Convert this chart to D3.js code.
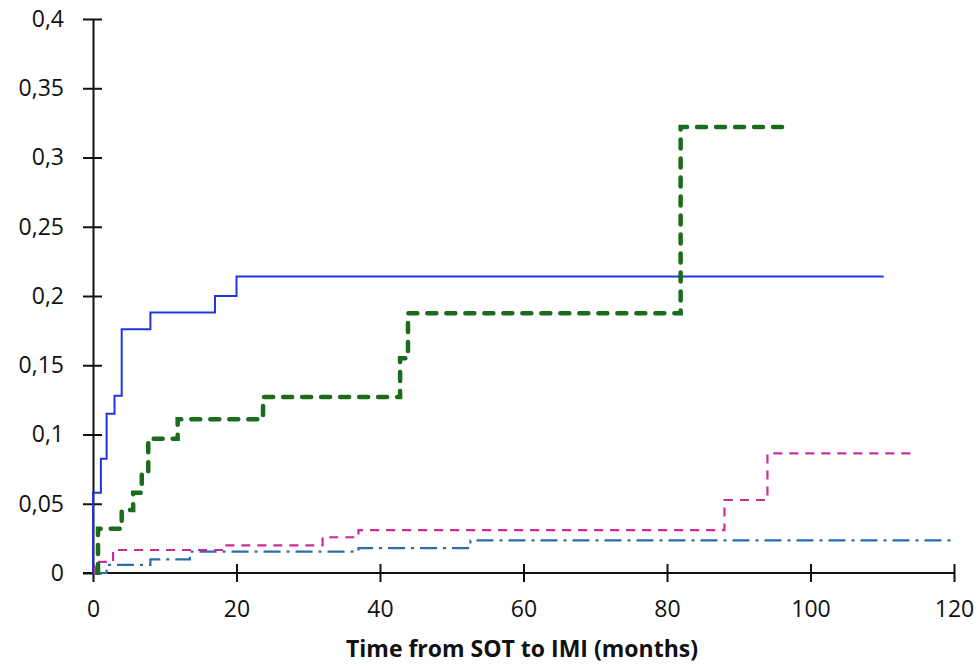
<!DOCTYPE html>
<html lang="en">
<head>
	<meta charset="utf-8">
	<title>Cumulative incidence of IMI after SOT</title>
	<script src="https://cdn.jsdelivr.net/npm/d3@7"></script>
	<style>
		body { margin: 0; background: #fff; }
		svg { display: block; font-family: "Open Sans", sans-serif; }
	</style>
</head>
<body>
	<script>
		// step curves: time (months) and cumulative value
		var blueTime = [0, 0, 1.1, 1.9, 3, 4, 8, 17, 20, 110.2];
		var blueValue = [0, 0.058, 0.0825, 0.115, 0.128, 0.176, 0.188, 0.2, 0.214, 0.214];

		var greenTime = [0.7, 0.7, 4, 5.6, 6.8, 7.7, 11.8, 23.7, 42.8, 43.9, 81.9, 96.3];
		var greenValue = [0, 0.032, 0.0455, 0.058, 0.072, 0.097, 0.111, 0.127, 0.155, 0.1875, 0.322, 0.322];

		var pinkTime = [0, 0.3, 2.8, 18, 32, 37, 88, 94, 114];
		var pinkValue = [0, 0.008, 0.0166, 0.02, 0.0258, 0.031, 0.0527, 0.0864, 0.0864];

		var tealTime = [0, 1.9, 8, 13.5, 37, 52.6, 119.8];
		var tealValue = [0, 0.0058, 0.0099, 0.0155, 0.018, 0.0235, 0.0235];

		var xTicks = [0, 20, 40, 60, 80, 100, 120];
		var yTicks = [0, 0.05, 0.1, 0.15, 0.2, 0.25, 0.3, 0.35, 0.4];
		var yTickLabels = ["0", "0,05", "0,1", "0,15", "0,2", "0,25", "0,3", "0,35", "0,4"];
		var xTitle = "Time from SOT to IMI (months)";

		var w = 980;
		var h = 667;

		var svg = d3.select("body")
			.append("svg")
			.attr("width", w)
			.attr("height", h);

		const xScale = d3.scaleLinear().domain([0, 120]).range([93, 954]);
		const yScale = d3.scaleLinear().domain([0, 0.4]).range([573, 19]);

		// x axis
		const xAxis = svg.append("g")
			.attr("transform", `translate(0,${yScale(0)})`)
			.call(d3.axisBottom(xScale).tickValues(xTicks).tickSize(9).tickPadding(19).tickSizeOuter(0));
		xAxis.select(".domain").attr("d", `M${xScale(0) - 10},0H${xScale(120)}`);
		xAxis.selectAll(".tick line").attr("y1", -9).attr("y2", 9);
		xAxis.selectAll(".tick text").attr("font-size", "23px").attr("font-family", "Open Sans").attr("fill", "#111");

		// y axis
		const yAxis = svg.append("g")
			.attr("transform", `translate(${xScale(0)},0)`)
			.call(d3.axisLeft(yScale).tickValues(yTicks).tickFormat((d, i) => yTickLabels[i]).tickSize(9).tickPadding(20).tickSizeOuter(0));
		yAxis.selectAll(".tick line").attr("x1", -10).attr("x2", 9);
		yAxis.selectAll(".tick text").attr("font-size", "23px").attr("font-family", "Open Sans").attr("fill", "#111");

		svg.selectAll(".domain, .tick line").attr("stroke", "#111").attr("stroke-width", 2);

		svg.append("text")
			.attr("x", 522)
			.attr("y", 657)
			.attr("text-anchor", "middle")
			.attr("font-size", "23px")
			.attr("font-weight", "bold")
			.attr("fill", "#111")
			.text(xTitle);

		const line = d3.line()
			.x(d => xScale(d[0]))
			.y(d => yScale(d[1]))
			.curve(d3.curveStepAfter);

		function pairs(t, v) { return t.map((d, i) => [d, v[i]]); }

		svg.append("path")
			.attr("d", line(pairs(tealTime, tealValue)))
			.attr("fill", "none")
			.attr("stroke", "#2a6da8")
			.attr("stroke-width", 2.2)
			.attr("stroke-dasharray", "17 6 3 6");

		svg.append("path")
			.attr("d", line(pairs(pinkTime, pinkValue)))
			.attr("fill", "none")
			.attr("stroke", "#cc2a9c")
			.attr("stroke-width", 2.2)
			.attr("stroke-dasharray", "9 7");

		svg.append("path")
			.attr("d", line(pairs(blueTime, blueValue)))
			.attr("fill", "none")
			.attr("stroke", "#1f35e0")
			.attr("stroke-width", 2);

		svg.append("path")
			.attr("d", line(pairs(greenTime, greenValue)))
			.attr("fill", "none")
			.attr("stroke", "#1a6b1a")
			.attr("stroke-width", 4.5)
			.attr("stroke-linecap", "round")
			.attr("stroke-dasharray", "9 10");
	</script>
</body>
</html>
